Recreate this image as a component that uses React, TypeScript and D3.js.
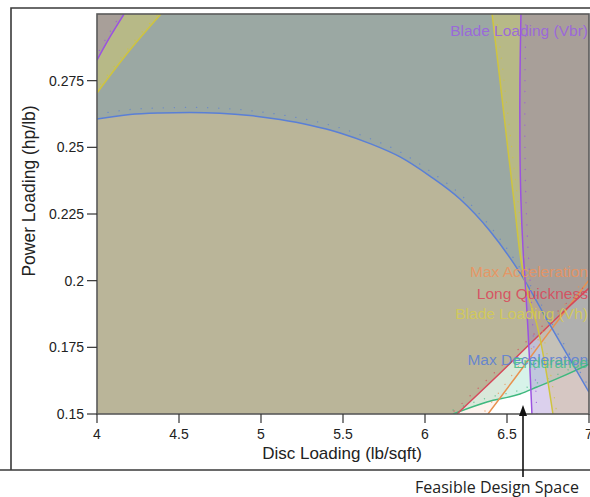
import React from "react";
import * as d3 from "d3";

type Pt = [number, number];

// Axis ticks
const xTicks = [4, 4.5, 5, 5.5, 6, 6.5, 7];
const yTicks = [0.15, 0.175, 0.2, 0.225, 0.25, 0.275];
const yTickLabels = ["0.15", "0.175", "0.2", "0.225", "0.25", "0.275"];

// Constraint contours (disc loading, power loading)
const maxDeceleration: Pt[] = [
  [4.0, 0.2606], [4.201, 0.2623], [4.384, 0.2629], [4.567, 0.2631], [4.75, 0.2628],
  [4.933, 0.2619], [5.116, 0.2604], [5.299, 0.2583], [5.482, 0.2554], [5.665, 0.2514],
  [5.848, 0.2464], [6.03, 0.2392], [6.213, 0.2306], [6.396, 0.2186], [6.579, 0.2029],
  [6.762, 0.1834], [7.0, 0.1582],
];
const bladeVbrRight: Pt[] = [
  [6.585, 0.3], [6.579, 0.2752], [6.579, 0.249], [6.585, 0.2302], [6.598, 0.2115],
  [6.61, 0.2002], [6.628, 0.1815], [6.64, 0.1665], [6.652, 0.15],
];
const bladeVbrLeft: Pt[] = [[4.0, 0.2827], [4.08, 0.2915], [4.165, 0.3]];
const bladeVhRight: Pt[] = [
  [6.409, 0.3], [6.457, 0.2752], [6.506, 0.249], [6.549, 0.2265], [6.585, 0.2077],
  [6.628, 0.1946], [6.683, 0.1834], [6.732, 0.1684], [6.78, 0.15],
];
const bladeVhLeft: Pt[] = [[4.0, 0.2704], [4.201, 0.2865], [4.39, 0.3]];
const longQuickness: Pt[] = [
  [6.195, 0.15], [6.427, 0.1635], [6.652, 0.177], [6.823, 0.1871], [7.0, 0.1972],
];
const maxAcceleration: Pt[] = [
  [6.384, 0.15], [6.549, 0.1635], [6.72, 0.1777], [6.86, 0.189], [7.0, 0.2002],
];
const endurance: Pt[] = [
  [6.171, 0.15], [6.378, 0.1545], [6.579, 0.1575], [6.683, 0.1601], [6.841, 0.1642],
  [7.0, 0.1687],
];

const labels = [
  { text: "Blade Loading (Vbr)", y: 0.2938, color: "#9a62e0" },
  { text: "Max Acceleration", y: 0.2035, color: "#ea9360" },
  { text: "Long Quickness", y: 0.1953, color: "#d94a5c" },
  { text: "Blade Loading (Vh)", y: 0.1878, color: "#d4cb55" },
  { text: "Max Deceleration", y: 0.1705, color: "#5d80d4" },
  { text: "Endurance", y: 0.1694, color: "#48bf8c" },
];

export default function App() {
  const x = d3.scaleLinear().domain([4, 7]).range([97, 589]);
  const y = d3.scaleLinear().domain([0.15, 0.3]).range([414, 14]);
  const [x0, x1] = x.range();
  const [yb, yt] = y.range();

  const lineX = d3
    .line<Pt>()
    .x((d) => x(d[0]))
    .y((d) => y(d[1]))
    .curve(d3.curveMonotoneX);
  const lineY = d3
    .line<Pt>()
    .x((d) => x(d[0]))
    .y((d) => y(d[1]))
    .curve(d3.curveCatmullRom.alpha(0.5));

  const pad = 20;
  // infeasible side above a contour running left -> right
  const above = (pts: Pt[]) =>
    `${lineX(pts)}L${x1 + pad},${y(pts[pts.length - 1][1])}L${x1 + pad},${yt - pad}L${x0 - pad},${yt - pad}L${x0 - pad},${yb + pad}L${x(pts[0][0])},${yb + pad}Z`;
  // infeasible side right of a contour running top -> bottom
  const rightOf = (pts: Pt[]) =>
    `${lineY(pts)}L${x(pts[pts.length - 1][0])},${yb + pad}L${x1 + pad},${yb + pad}L${x1 + pad},${yt - pad}L${x(pts[0][0])},${yt - pad}Z`;
  // infeasible side left of a contour from the left edge to the top edge
  const leftOf = (pts: Pt[]) =>
    `${lineY(pts)}L${x(pts[pts.length - 1][0])},${yt - pad}L${x0 - pad},${yt - pad}L${x0 - pad},${y(pts[0][1])}Z`;

  const font = "'Liberation Sans', Arial, Helvetica, sans-serif";

  const contours: { d: string; color: string; dx: number; dy: number }[] = [
    { d: lineX(endurance) ?? "", color: "#3fb87e", dx: 0, dy: -4 },
    { d: lineX(maxAcceleration) ?? "", color: "#e8914f", dx: -3, dy: -3 },
    { d: lineX(longQuickness) ?? "", color: "#d6485a", dx: -3, dy: -3 },
    { d: lineX(maxDeceleration) ?? "", color: "#5a7fd6", dx: 0, dy: -5 },
    { d: lineY(bladeVhRight) ?? "", color: "#cfc43e", dx: 4, dy: 0 },
    { d: lineY(bladeVhLeft) ?? "", color: "#cfc43e", dx: -3, dy: 0 },
    { d: lineY(bladeVbrRight) ?? "", color: "#9b52e0", dx: 5, dy: 0 },
    { d: lineY(bladeVbrLeft) ?? "", color: "#9b52e0", dx: -3, dy: 0 },
  ];

  return (
    <svg
      width={590}
      height={497}
      style={{ position: "absolute", left: 0, top: 0, background: "#fff" }}
    >
      <defs>
        <clipPath id="plotClip">
          <rect x={x0} y={yt} width={x1 - x0} height={yb - yt} />
        </clipPath>
      </defs>

      {/* outer frame */}
      <path d="M0,470H590M11,470V8H590" fill="none" stroke="#3a3a3a" strokeWidth={1.6} />

      <g clipPath="url(#plotClip)">
        <rect x={x0} y={yt} width={x1 - x0} height={yb - yt} fill="#fff" />
        <path d={above(endurance)} fill="#48c89c" fillOpacity={0.22} />
        <path d={above(maxAcceleration)} fill="#f0a070" fillOpacity={0.12} />
        <path d={above(longQuickness)} fill="#a38c66" fillOpacity={0.56} />
        <path d={above(maxDeceleration)} fill="#6a93b2" fillOpacity={0.38} />
        <path d={rightOf(bladeVhRight)} fill="#ead952" fillOpacity={0.35} />
        <path d={leftOf(bladeVhLeft)} fill="#ead952" fillOpacity={0.35} />
        <path d={rightOf(bladeVbrRight)} fill="#8762c3" fillOpacity={0.3} />
        <path d={leftOf(bladeVbrLeft)} fill="#8762c3" fillOpacity={0.3} />

        {contours.map((c, i) => (
          <g key={i}>
            <path d={c.d} fill="none" stroke={c.color} strokeWidth={1.5} />
            <path
              d={c.d}
              transform={`translate(${c.dx},${c.dy})`}
              fill="none"
              stroke={c.color}
              strokeOpacity={0.75}
              strokeWidth={1.3}
              strokeDasharray="0.1 11"
              strokeLinecap="round"
            />
          </g>
        ))}

        {labels.map((l, i) => (
          <text
            key={i}
            x={588}
            y={y(l.y)}
            textAnchor="end"
            dominantBaseline="central"
            fontFamily={font}
            fontSize={15.5}
            fill={l.color}
            fillOpacity={0.9}
          >
            {l.text}
          </text>
        ))}
      </g>

      {/* plot frame */}
      <rect x={x0} y={yt} width={x1 - x0} height={yb - yt} fill="none" stroke="#5a5a5a" strokeWidth={1.6} />

      {/* x axis */}
      {xTicks.map((t) => (
        <g key={t}>
          <line x1={x(t)} x2={x(t)} y1={yb} y2={yb + 9} stroke="#333" strokeWidth={1.2} />
          <text x={x(t)} y={yb + 25} textAnchor="middle" fontFamily={font} fontSize={14} fill="#222">
            {String(t)}
          </text>
        </g>
      ))}
      <text x={342} y={459} textAnchor="middle" fontFamily={font} fontSize={17} fill="#222">
        Disc Loading (lb/sqft)
      </text>

      {/* y axis */}
      {yTicks.map((t, i) => (
        <g key={t}>
          <line x1={x0 - 10} x2={x0} y1={y(t)} y2={y(t)} stroke="#333" strokeWidth={1.2} />
          <text
            x={x0 - 13}
            y={y(t)}
            textAnchor="end"
            dominantBaseline="central"
            fontFamily={font}
            fontSize={14}
            fill="#222"
          >
            {yTickLabels[i]}
          </text>
        </g>
      ))}
      <text
        transform={`translate(35,191) rotate(-90)`}
        textAnchor="middle"
        fontFamily={font}
        fontSize={17.5}
        fill="#222"
      >
        Power Loading (hp/lb)
      </text>

      {/* annotation */}
      <line x1={523} x2={523} y1={477} y2={414} stroke="#111" strokeWidth={1.6} />
      <path d="M523,405L519,416L527,416Z" fill="#111" />
      <text x={497} y={493} textAnchor="middle" fontFamily="'Open Sans', 'Noto Sans', sans-serif" fontSize={16} fill="#222">
        Feasible Design Space
      </text>
    </svg>
  );
}
